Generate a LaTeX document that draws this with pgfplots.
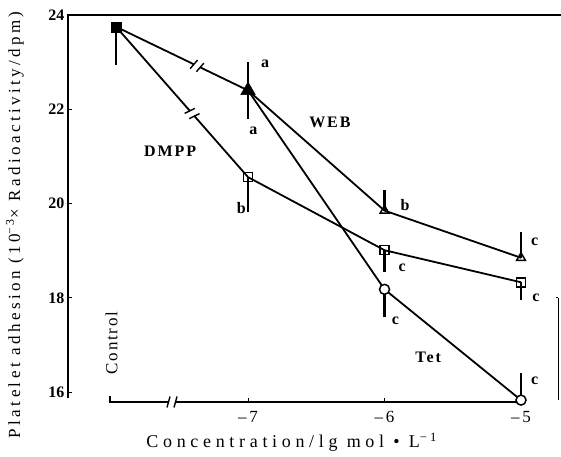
\documentclass[border=0pt]{standalone}
\usepackage{pgfplots}
\pgfplotsset{compat=1.18}
\usepackage{fontspec}
\setmainfont{Liberation Serif}
\begin{document}
\begin{tikzpicture}
\begin{axis}[name=ax, scale only axis, width=493pt, height=387pt,
  xmin=-8.319, xmax=-4.707, ymin=15.79, ymax=24.0,
  clip=false, axis line style={draw=none},
  tick pos=left,
  xtick={-7,-6,-5}, xticklabels={–\,7,–\,6,–\,5},
  ytick={16,18,20,22,24}, yticklabels={\textbf{16},\textbf{18},\textbf{20},\textbf{22},\textbf{24}},
  tick style={black, line width=0.9pt}, major tick length=4pt,
  tick label style={font=\fontsize{16}{16}\selectfont},
  xticklabel style={yshift=-6pt, font=\fontsize{17}{17}\selectfont},
  error bars/error bar style={line width=2.3pt, black},
  error bars/error mark=none,
]
% frame
\draw[line width=1.4pt] (axis cs:-8.319,15.88) -- (axis cs:-8.319,24.0) -- (axis cs:-4.707,24.0);
\draw[line width=1.6pt] (axis cs:-8.01,15.92) -- (axis cs:-8.01,15.79) -- (axis cs:-4.99,15.79);
\draw[line width=1pt] (axis cs:-4.728,15.83) -- (axis cs:-4.728,18.0);
\draw[line width=1pt] (axis cs:-4.728,18.0) -- (axis cs:-4.745,18.0);
% lines
\addplot[black, line width=1.8pt, mark=none] coordinates {(-7.967,23.75) (-7,22.4) (-6,19.85) (-5,18.85)};
\addplot[black, line width=1.8pt, mark=none] coordinates {(-7,22.4) (-6,18.18) (-5,15.83)};
\addplot[black, line width=1.8pt, mark=none] coordinates {(-7.967,23.75) (-7,20.56) (-6,19.01) (-5,18.33)};
% markers with error bars
\addplot[black, only marks, mark=square*, mark size=5pt,
  error bars/.cd, y dir=both, y explicit] coordinates {(-7.967,23.75) += (0,0.08) -= (0,0.81)};
\addplot[black, only marks, mark=triangle*, mark size=8.5pt,
  error bars/.cd, y dir=both, y explicit] coordinates {(-7,22.4) += (0,0.6) -= (0,0.6)};
\addplot[black, only marks, mark=triangle, mark size=5pt, mark options={fill=white, line width=1.5pt},
  error bars/.cd, y dir=both, y explicit] coordinates {(-6,19.85) += (0,0.43) -= (0,0) (-5,18.85) += (0,0.54) -= (0,0)};
\addplot[black, only marks, mark=square, mark size=4.5pt, mark options={fill=white, line width=1.5pt},
  error bars/.cd, y dir=both, y explicit] coordinates {(-7,20.56) += (0,0) -= (0,0.74) (-6,19.01) += (0,0) -= (0,0.47) (-5,18.33) += (0,0) -= (0,0.38)};
\addplot[black, only marks, mark=*, mark size=5pt, mark options={fill=white, line width=1.5pt},
  error bars/.cd, y dir=both, y explicit] coordinates {(-6,18.18) += (0,0) -= (0,0.59) (-5,15.83) += (0,0.57) -= (0,0)};
% break points
\coordinate (br1) at (axis cs:-7.374,22.92);
\coordinate (br2) at (axis cs:-7.41,21.91);
\coordinate (br3) at (axis cs:-7.557,15.79);
% annotations
\node[font=\fontsize{16}{16}\selectfont\bfseries] at (axis cs:-6.875,22.96) {a};
\node[font=\fontsize{16}{16}\selectfont\bfseries] at (axis cs:-6.96,21.54) {a};
\node[font=\fontsize{16}{16}\selectfont\bfseries\addfontfeatures{LetterSpace=12}] at (axis cs:-6.40,21.73) {WEB};
\node[font=\fontsize{16}{16}\selectfont\bfseries\addfontfeatures{LetterSpace=12}] at (axis cs:-7.57,21.1) {DMPP};
\node[font=\fontsize{16}{16}\selectfont\bfseries\addfontfeatures{LetterSpace=12}] at (axis cs:-5.68,16.74) {Tet};
\node[font=\fontsize{16}{16}\selectfont\bfseries] at (axis cs:-7.05,19.9) {b};
\node[font=\fontsize{16}{16}\selectfont\bfseries] at (axis cs:-5.85,19.97) {b};
\node[font=\fontsize{16}{16}\selectfont\bfseries] at (axis cs:-4.90,19.18) {c};
\node[font=\fontsize{16}{16}\selectfont\bfseries] at (axis cs:-5.87,18.63) {c};
\node[font=\fontsize{16}{16}\selectfont\bfseries] at (axis cs:-4.89,18.01) {c};
\node[font=\fontsize{16}{16}\selectfont\bfseries] at (axis cs:-5.92,17.52) {c};
\node[font=\fontsize{16}{16}\selectfont\bfseries] at (axis cs:-4.90,16.25) {c};
\node[rotate=90, font=\fontsize{17}{17}\selectfont\addfontfeatures{LetterSpace=10}] at (axis cs:-8.0,17.04) {Control};
% axis labels
\node[rotate=90, font=\fontsize{17}{17}\selectfont\addfontfeatures{LetterSpace=20}] at ([xshift=-53pt]axis cs:-8.319,19.55) {Platelet adhesion (10\textsuperscript{−3}× Radioactivity/dpm)};
\node[font=\fontsize{18}{18}\selectfont\addfontfeatures{LetterSpace=26}] at ([yshift=-40pt]axis cs:-6.68,15.79) {Concentration/lg mol • L\textsuperscript{−1}};
\end{axis}
\foreach \p/\a in {br1/-25.7, br2/-48.7, br3/0} {
  \begin{scope}[shift={(\p)}, rotate=\a]
    \fill[white] (-3pt,-3.5pt) rectangle (3pt,3.5pt);
    \draw[line width=1.4pt] (-5pt,-5.5pt) -- (-2pt,5.5pt);
    \draw[line width=1.4pt] (2pt,-5.5pt) -- (5pt,5.5pt);
  \end{scope}
}
\coordinate (bbA) at ([shift={(-68pt,-55pt)}]ax.south west);
\coordinate (bbB) at ([shift={(0pt,15pt)}]ax.north east);
\pgfresetboundingbox
\path (bbA) rectangle (bbB);
\end{tikzpicture}
\end{document}
